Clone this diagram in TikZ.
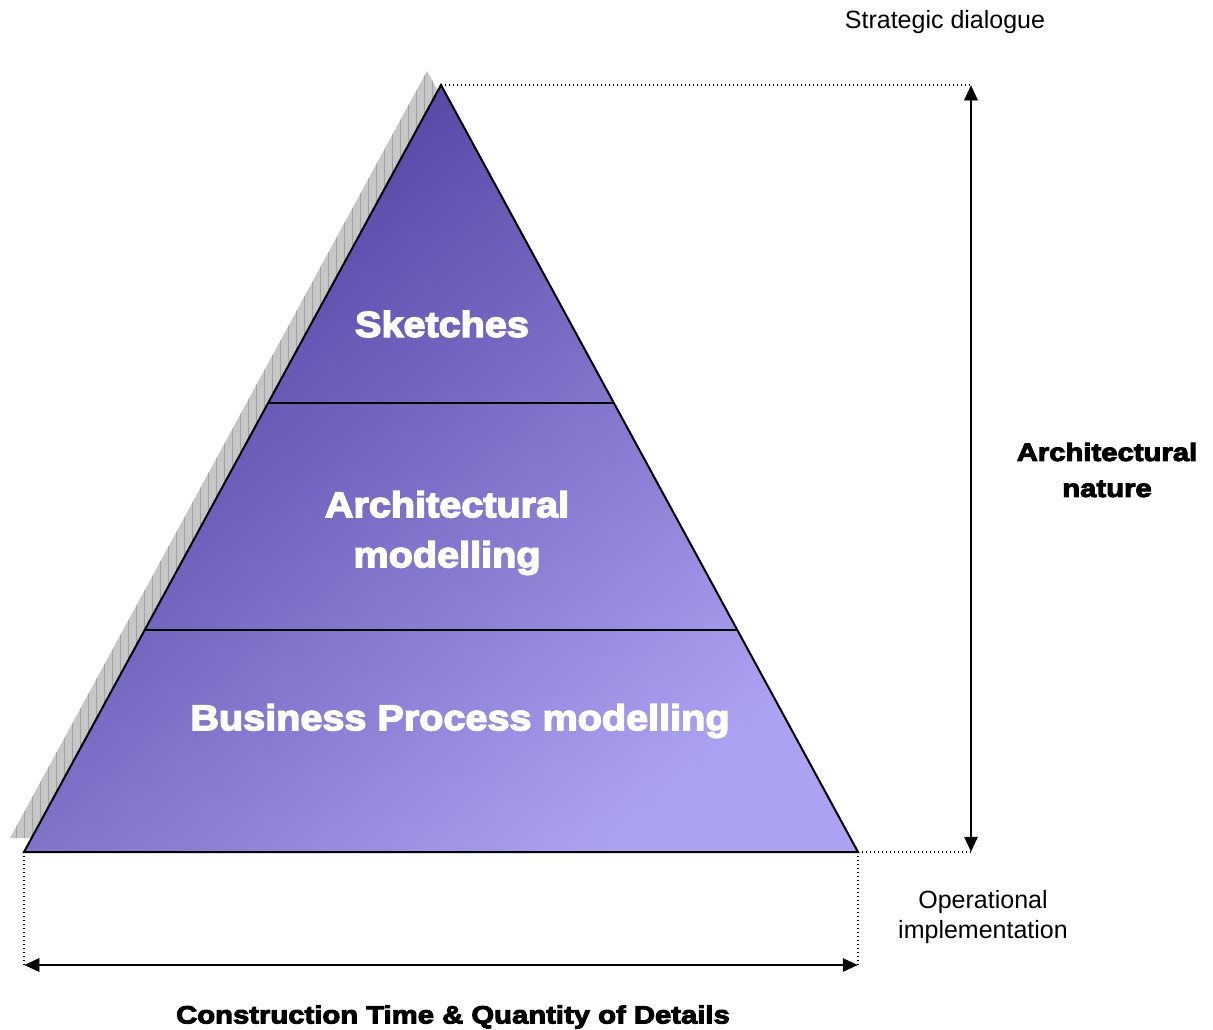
\documentclass[tikz,border=0pt]{standalone}
\usepackage{fontspec}
\setmainfont{Liberation Sans}
\newfontfamily\heavy{Liberation Sans Bold}[FakeBold=4,FakeStretch=1.1]
\newfontfamily\heavywide{Liberation Sans Bold}[FakeBold=4,FakeStretch=1.17]
\usetikzlibrary{calc}
\definecolor{pdark}{HTML}{4C3C9C}
\definecolor{plight}{HTML}{ACA2F2}
\definecolor{shadowgray}{HTML}{C6C6C6}
\definecolor{gridgray}{HTML}{A2A2A2}
\tikzset{
  outline/.style={draw=black,line width=2pt,line join=miter},
  divider/.style={draw=black,line width=1.5pt},
  guide/.style={draw=black,line width=1.2pt,dash pattern=on 1.2pt off 2.8pt},
  dimarrow/.style={draw=black,line width=2pt},
  tiphead/.style={fill=black,draw=black,line width=0.5pt,line join=miter},
  inlabel/.style={text=white,align=center,font=\heavy\fontsize{36}{50}\selectfont},
  sidelabel/.style={text=black,align=center,font=\heavywide\fontsize{25}{36}\selectfont},
  plainlabel/.style={text=black,align=center,font=\fontsize{25}{30}\selectfont},
}
\begin{document}
\begin{tikzpicture}[x=1pt,y=-1pt]
\useasboundingbox (0,0) rectangle (1213,1029);
\coordinate (apex) at (441,85);
\coordinate (bl) at (24,852);
\coordinate (br) at (858,852);
\coordinate (sapex) at (427,71);
\coordinate (sbl) at (10,838);
\coordinate (sbr) at (844,838);
\coordinate (d1l) at ($(apex)!0.4146!(bl)$);
\coordinate (d1r) at ($(apex)!0.4146!(br)$);
\coordinate (d2l) at ($(apex)!0.7106!(bl)$);
\coordinate (d2r) at ($(apex)!0.7106!(br)$);
\coordinate (tr) at (971,86);
\coordinate (brr) at (971,851);
\coordinate (bbl) at (25,965);
\coordinate (bbr) at (857,965);
% shadow
\begin{scope}
\clip (sapex)--(sbl)--(sbr)--cycle;
\fill[shadowgray] (0,60) rectangle (870,850);
\draw[gridgray,line width=0.6pt,step=8] (0,56) grid (872,848);
\end{scope}
% pyramid
\shade[top color=pdark,bottom color=plight,shading angle=40] (apex)--(bl)--(br)--cycle;
\draw[divider] (d1l)--(d1r);
\draw[divider] (d2l)--(d2r);
\draw[outline] (apex)--(bl)--(br)--cycle;
% guides
\draw[guide] (apex)--(971,85);
\draw[guide] (br)--(971,852);
\draw[guide] (bl)--(24,965);
\draw[guide] (br)--(858,965);
% dimension arrows
\draw[dimarrow] ($(tr)+(0,10)$)--($(brr)+(0,-10)$);
\fill[tiphead] (tr)--++(-6.5,14)--++(13,0)--cycle;
\fill[tiphead] (brr)--++(-6.5,-14)--++(13,0)--cycle;
\draw[dimarrow] ($(bbl)+(10,0)$)--($(bbr)+(-10,0)$);
\fill[tiphead] (bbl)--++(14,-6.5)--++(0,13)--cycle;
\fill[tiphead] (bbr)--++(-14,-6.5)--++(0,13)--cycle;
% labels
\node[inlabel] (sk) at (442,324) {Sketches};
\node[inlabel] (am) at (447,533) {Architectural\\modelling};
\node[inlabel] (bp) at (460,721) {Business Process modelling};
\node[plainlabel] (sd) at (945,22) {Strategic dialogue};
\node[sidelabel] (an) at (1107,470) {Architectural\\nature};
\node[plainlabel] (oi) at (983,917) {Operational\\implementation};
\node[sidelabel] (ct) at (453,1017) {Construction Time \& Quantity of Details};
\end{tikzpicture}
\end{document}
